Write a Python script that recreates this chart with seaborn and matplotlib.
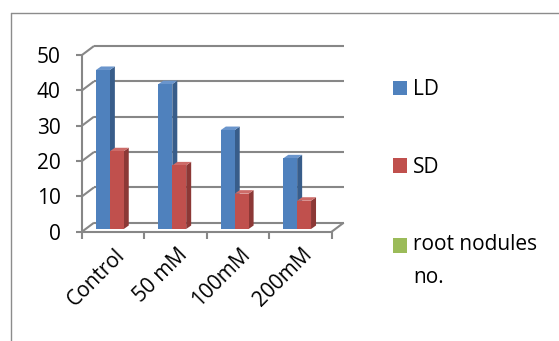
import numpy as np
import pandas as pd
import matplotlib
matplotlib.use("Agg")
import matplotlib.pyplot as plt
import seaborn as sns
from matplotlib.transforms import offset_copy, IdentityTransform, ScaledTranslation
from matplotlib.patches import Polygon, Patch
from matplotlib.lines import Line2D

# ---- data ----
treatments = ["Control", "50 mM", "100mM", "200mM"]
ld = [45, 41, 28, 20]
sd = [22, 18, 10, 8]
root_nodules = [0, 0, 0, 0]
series_names = ["LD", "SD", "root nodules no."]
legend_labels = ["LD", "SD", "root nodules\nno."]
y_ticks = [0, 10, 20, 30, 40, 50]

# ---- colours ----
front_colors = ["#4F81BD", "#C0504D", "#9BBB59"]
side_colors = ["#385D8A", "#8C3836", "#71893F"]
top_colors = ["#6A95CC", "#CD6B68", "#AECB74"]
grid_color = "#878787"

df = pd.DataFrame({
    "treatment": treatments * len(series_names),
    "value": ld + sd + root_nodules,
    "series": np.repeat(series_names, len(treatments)),
})

sns.set_theme(style="white")
plt.rcParams["font.family"] = ["Open Sans", "DejaVu Sans"]
plt.rcParams["text.color"] = "black"
FS = 15

DPI = 100
W, H = 559, 341
fig = plt.figure(figsize=(W / DPI, H / DPI), dpi=DPI)

# plane in which the bars stand (pixel box of the plot area)
px0, px1 = 85.6, 335.3
py_bot, py_top = 229.0, 52.3
ax = fig.add_axes([px0 / W, (H - py_bot) / H, (px1 - px0) / W, (py_bot - py_top) / H])
ax.patch.set_alpha(0)

sns.barplot(data=df, x="treatment", y="value", hue="series",
            order=treatments, hue_order=series_names, palette=front_colors,
            saturation=1, width=0.667, linewidth=0, errorbar=None,
            legend=False, ax=ax)
ax.set_xlim(-0.5, len(treatments) - 0.5)
ax.set_ylim(0, 50)
for s in ax.spines.values():
    s.set_visible(False)
ax.set_xlabel("")
ax.set_ylabel("")

# depth offsets (pixels) of the front edge and the back wall relative to the bar plane
FRONT = np.array([-3.6, -2.7])
BACK = np.array([8.4, 6.3])
BAR_DEPTH = np.array([5.0, 3.5])


def disp(x, y, off=(0, 0)):
    return ax.transData.transform((x, y)) + np.asarray(off)


def seg(p, q, **kw):
    ax.add_line(Line2D([p[0], q[0]], [p[1], q[1]], transform=IdentityTransform(),
                       color=grid_color, lw=1.5, clip_on=False, zorder=1,
                       solid_capstyle="butt", **kw))


xl, xr = -0.5, len(treatments) - 0.5
back_tf = offset_copy(ax.transData, fig=fig, x=BACK[0], y=BACK[1], units="dots")

# back-wall gridlines, side-wall diagonals and y tick marks
for v in y_ticks:
    ax.plot([xl, xr], [v, v], transform=back_tf, color=grid_color, lw=1.5,
            clip_on=False, zorder=1, solid_capstyle="butt")
    f = disp(xl, v, FRONT)
    b = disp(xl, v, BACK)
    seg(f, b)
    seg(f, f + np.array([-6.5, 0]))

# front y axis
seg(disp(xl, 0, FRONT), disp(xl, 50, FRONT))
# floor: front edge and right edge
seg(disp(xl, 0, FRONT), disp(xr, 0, FRONT))
seg(disp(xr, 0, FRONT), disp(xr, 0, BACK))
# category boundary ticks
for k in np.arange(xl, xr + 0.01, 1.0):
    p = disp(k, 0, FRONT)
    seg(p, p + np.array([0, -7]))

# 3-D faces of the columns
for i, (cont, sc, tc) in enumerate(zip(ax.containers, side_colors, top_colors)):
    for bar in cont:
        bar.set_zorder(3 + 2 * i)
        h = bar.get_height()
        if h <= 0:
            continue
        bx0 = bar.get_x()
        bx1 = bx0 + bar.get_width()
        a = disp(bx1, 0)
        b = disp(bx1, h)
        side = Polygon([a, b, b + BAR_DEPTH, a + BAR_DEPTH], closed=True,
                       transform=IdentityTransform(), facecolor=sc,
                       edgecolor="none", zorder=2.5 + 2 * i, clip_on=False)
        c = disp(bx0, h)
        top = Polygon([c, b, b + BAR_DEPTH, c + BAR_DEPTH], closed=True,
                      transform=IdentityTransform(), facecolor=tc,
                      edgecolor="none", zorder=2.5 + 2 * i, clip_on=False)
        ax.add_patch(side)
        ax.add_patch(top)

# tick labels
ax.set_yticks(y_ticks)
ax.set_yticklabels([str(v) for v in y_ticks])
ax.tick_params(axis="y", length=0, pad=18, labelsize=FS, labelcolor="black")
for lab in ax.get_yticklabels():
    lab.set_transform(lab.get_transform() + ScaledTranslation(0, -2.7 / DPI, fig.dpi_scale_trans))

ax.set_xticks(range(len(treatments)))
ax.set_xticklabels(treatments)
ax.tick_params(axis="x", length=0, pad=11, labelsize=FS, labelcolor="black")
for lab in ax.get_xticklabels():
    lab.set_rotation(45)
    lab.set_ha("right")
    lab.set_va("top")
    lab.set_rotation_mode("anchor")
    lab.set_transform(lab.get_transform() + ScaledTranslation(-2.5 / DPI, 0, fig.dpi_scale_trans))

# legend
handles = [Patch(facecolor=c, edgecolor="none") for c in front_colors]
leg = fig.legend(handles, legend_labels, loc="upper left",
                 bbox_to_anchor=(393 / W, 1 - 79 / H), frameon=False,
                 fontsize=FS, handlelength=0.68, handleheight=0.68,
                 handletextpad=0.29, labelspacing=2.72, borderpad=0,
                 borderaxespad=0)
texts = leg.get_texts()
texts[2].set_linespacing(1.75)

# keep the square of the two-line entry level with its first line
fig.canvas.draw()
r = fig.canvas.get_renderer()
h_one = texts[1].get_window_extent(r).height
h_two = texts[2].get_window_extent(r).height
shift_pt = (h_two - h_one) / 2 * 72 / DPI
hb = leg.legend_handles[2]
hb.set_y(hb.get_y() + shift_pt)

# chart frame (top and left edges)
fig.add_artist(Line2D([11 / W, 1], [1 - 12.5 / H] * 2, transform=fig.transFigure,
                      color="#8c8c8c", lw=1))
fig.add_artist(Line2D([11 / W, 11 / W], [0, 1 - 12.5 / H], transform=fig.transFigure,
                      color="#8c8c8c", lw=1))

fig.savefig("out.png", dpi=DPI, facecolor="white")
